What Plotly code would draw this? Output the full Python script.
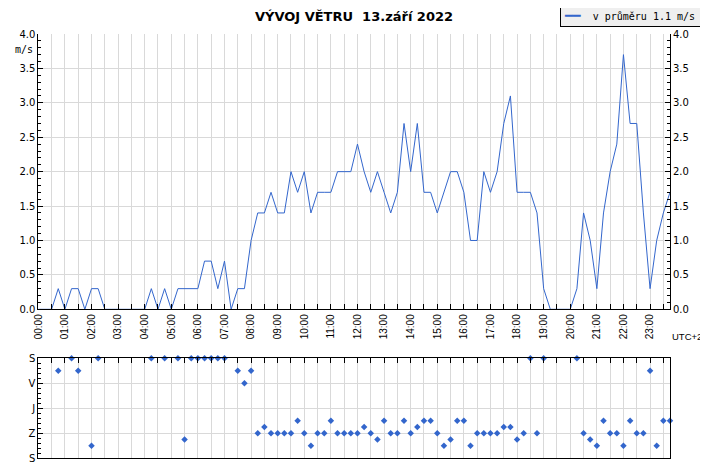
import plotly.graph_objects as go

# 15-minute samples, 00:00 .. 23:45
hours = [k * 0.25 for k in range(96)]

# average wind speed (m/s)
speed = [
    0, 0, 0, 0.3, 0, 0.3, 0.3, 0, 0.3, 0.3,
    0, 0, 0, 0, 0, 0, 0, 0.3, 0, 0.3,
    0, 0.3, 0.3, 0.3, 0.3, 0.7, 0.7, 0.3, 0.7, 0,
    0.3, 0.3, 1.0, 1.4, 1.4, 1.7, 1.4, 1.4, 2.0, 1.7,
    2.0, 1.4, 1.7, 1.7, 1.7, 2.0, 2.0, 2.0, 2.4, 2.0,
    1.7, 2.0, 1.7, 1.4, 1.7, 2.7, 2.0, 2.7, 1.7, 1.7,
    1.4, 1.7, 2.0, 2.0, 1.7, 1.0, 1.0, 2.0, 1.7, 2.0,
    2.7, 3.1, 1.7, 1.7, 1.7, 1.4, 0.3, 0, 0, 0,
    0, 0.3, 1.4, 1.0, 0.3, 1.4, 2.0, 2.4, 3.7, 2.7,
    2.7, 1.4, 0.3, 1.0, 1.4, 1.7,
]

# wind direction in degrees, None = calm
direction = [
    None, None, None, 45, None, 0, 45, None, 315, 0,
    None, None, None, None, None, None, None, 0, None, 0,
    None, 0, 292.5, 0, 0, 0, 0, 0, 0, None,
    45, 90, 45, 270, 247.5, 270, 270, 270, 270, 225,
    270, 315, 270, 270, 225, 270, 270, 270, 270, 247.5,
    270, 292.5, 225, 270, 270, 225, 270, 247.5, 225, 225,
    270, 315, 292.5, 225, 225, 315, 270, 270, 270, 270,
    247.5, 247.5, 292.5, 270, 0, 270, 0, None, None, None,
    None, 0, 270, 292.5, 315, 225, 270, 270, 315, 225,
    270, 270, 45, 315, 225, 225,
]

dir_ticks = [0, 90, 180, 270, 360]
dir_labels = ['S', 'V', 'J', 'Z', 'S']

title_text = 'VÝVOJ VĚTRU \u00a013.září 2022'
legend_text = 'v průměru 1.1 m/s'

# the page puts the plot 8px in from the top-left corner
OFF = 8
W, H = 708 - OFF, 468 - OFF
BLUE = '#3366cc'
GRID = '#d9d9d9'
CALM_Y = -12


def px(x):
    return (x - OFF) / W


def py(y):
    return 1 - (y - OFF) / H


half_hours = [i * 0.5 for i in range(48)]
hour_text = ['%02d:00' % int(h) if h == int(h) else '' for h in half_hours]

dir_x = [h for h, d in zip(hours, direction) if d is not None]
dir_y = [d for d in direction if d is not None]
calm_x = [h for h, d in zip(hours, direction) if d is None]

fig = go.Figure()

fig.add_trace(go.Scatter(
    x=hours, y=speed, mode='lines', name=legend_text,
    line=dict(color=BLUE, width=1),
    showlegend=False, xaxis='x', yaxis='y'
))
# same data on the right axis so it gets drawn
fig.add_trace(go.Scatter(
    x=hours, y=speed, mode='lines', line=dict(width=0),
    showlegend=False, hoverinfo='skip', xaxis='x', yaxis='y2'
))
fig.add_trace(go.Scatter(
    x=dir_x, y=dir_y, mode='markers',
    marker=dict(symbol='diamond', size=5, color=BLUE),
    cliponaxis=False, showlegend=False, xaxis='x2', yaxis='y3'
))
fig.add_trace(go.Scatter(
    x=calm_x, y=[CALM_Y] * len(calm_x), mode='markers',
    marker=dict(symbol='triangle-down', size=5, color=BLUE),
    cliponaxis=False, showlegend=False, xaxis='x2', yaxis='y3'
))

xdom = [px(38.3), px(670)]
tick_font = dict(family='DejaVu Sans', size=10, color='black')
hour_font = dict(family='Liberation Sans', size=10, color='black')
mono = dict(family='DejaVu Sans Mono', size=10, color='black')

# legend box drawn as an annotation (compact, with a drop shadow)
legend_label = ('<span style="color:%s;font-size:13px">━━</span>'
                '\u00a0\u00a0%s\u00a0' % (BLUE, legend_text))

fig.update_layout(
    width=W, height=H, autosize=False,
    margin=dict(l=0, r=0, t=0, b=0, pad=0),
    paper_bgcolor='white', plot_bgcolor='white',
    font=dict(family='DejaVu Sans', size=10, color='black'),
    title=dict(text='<b>' + title_text + '</b>', x=px(354), xref='paper', xanchor='center',
               y=py(16), yref='paper', yanchor='middle',
               font=dict(family='DejaVu Sans', size=13, color='black')),
    showlegend=False,
    xaxis=dict(domain=xdom, anchor='y', range=[0, 23.75], automargin=False,
               tickmode='array', tickvals=half_hours, ticktext=hour_text,
               tickangle=-90, ticks='inside', ticklen=5, tickcolor='black',
               showgrid=True, gridcolor=GRID, zeroline=False,
               showline=True, linecolor='black', linewidth=1,
               tickfont=hour_font),
    yaxis=dict(domain=[py(309.3), py(34)], anchor='x', range=[0, 4], automargin=False,
               dtick=0.5, tickformat='.1f', ticks='inside', ticklen=5, tickcolor='black',
               minor=dict(dtick=0.1, ticks='inside', ticklen=3, tickcolor='black', showgrid=False),
               showgrid=True, gridcolor=GRID, zeroline=False,
               showline=True, linecolor='black', linewidth=1, tickfont=tick_font),
    yaxis2=dict(overlaying='y', side='right', anchor='x', matches='y', automargin=False,
                dtick=0.5, tickformat='.1f', ticks='inside', ticklen=5, tickcolor='black',
                minor=dict(dtick=0.1, ticks='inside', ticklen=3, tickcolor='black', showgrid=False),
                showgrid=False, zeroline=False,
                showline=True, linecolor='black', linewidth=1, tickfont=tick_font),
    xaxis2=dict(domain=xdom, anchor='y3', matches='x', side='top', automargin=False,
                tickmode='array', tickvals=half_hours, showticklabels=False,
                ticks='inside', ticklen=5, tickcolor='black',
                showgrid=True, gridcolor=GRID, zeroline=False,
                showline=True, mirror=True, linecolor='black', linewidth=1),
    yaxis3=dict(domain=[py(458.3), py(358.3)], anchor='x2', range=[360, 0], automargin=False,
                tickmode='array', tickvals=dir_ticks, ticktext=dir_labels,
                ticks='inside', ticklen=5, tickcolor='black',
                minor=dict(dtick=18, ticks='inside', ticklen=3, tickcolor='black', showgrid=False),
                showgrid=True, gridcolor=GRID, zeroline=False,
                showline=True, mirror=True, linecolor='black', linewidth=1, tickfont=tick_font),
    shapes=[dict(type='rect', xref='paper', yref='paper',
                 x0=px(565), x1=px(707), y0=py(26.5), y1=py(7),
                 fillcolor='#a0a0a0', line=dict(width=0), layer='below')],
    annotations=[
        dict(text=legend_label, x=px(705), y=py(4), xref='paper', yref='paper',
             xanchor='right', yanchor='top', showarrow=False, align='left',
             bgcolor='#efefef', bordercolor='black', borderwidth=1, borderpad=3,
             font=mono),
        dict(text='m/s', x=px(35), y=py(49), xref='paper', yref='paper',
             xanchor='right', yanchor='middle', showarrow=False, font=mono),
        dict(text='UTC+2', x=px(670), y=py(336), xref='paper', yref='paper',
             xanchor='left', yanchor='middle', showarrow=False,
             font=dict(family='Liberation Sans', size=9.5, color='black')),
    ],
)

fig.write_html('out.html')
